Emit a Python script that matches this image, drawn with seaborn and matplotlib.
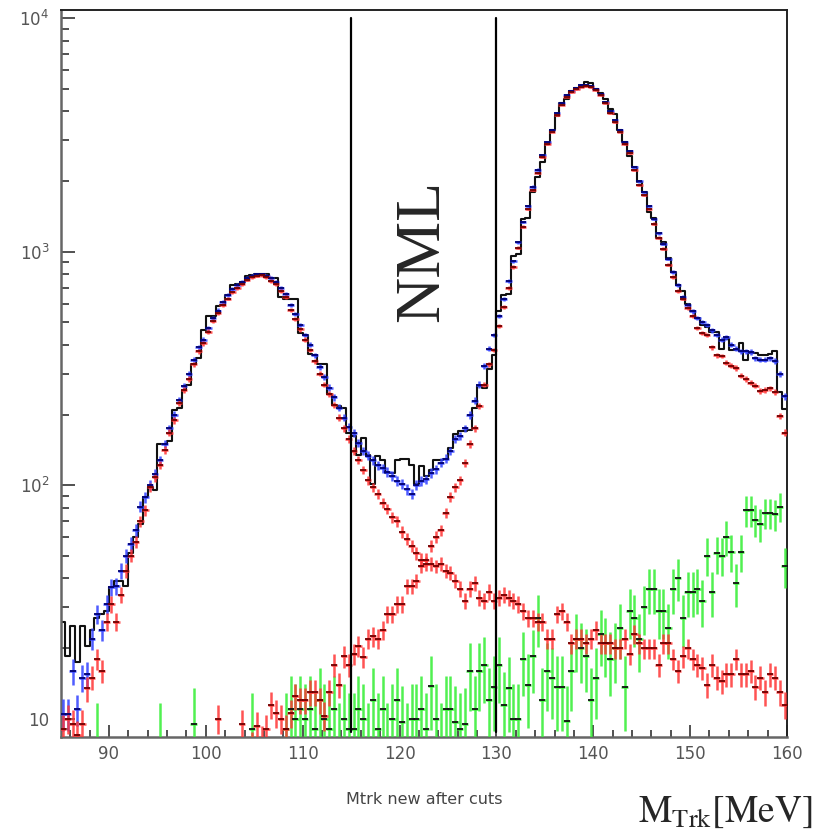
import numpy as np
import pandas as pd
import matplotlib
matplotlib.use("Agg")
import matplotlib.pyplot as plt
import seaborn as sns
from matplotlib.ticker import (FixedLocator, FixedFormatter, LogLocator,
                               MultipleLocator, NullFormatter)

# 150 bins of 0.5 MeV between 85 and 160 MeV
x_lo, x_hi, bin_w = 85.0, 160.0, 0.5
cuts = [115, 130]
N = None

# black histogram (data)
data_counts = [
    26, 18.5, 25, 17.5, 25, 20.5, 24, 27, 28, 29,
    36.5, 39, 39, 37, 51, 60, 68, 89, 98, 95,
    150, 150, 155, 210, 215, 255, 270, 330, 350, 460,
    530, 530, 585, 590, 655, 720, 725, 745, 790, 795,
    805, 805, 800, 770, 770, 640, 625, 630, 630, 450,
    440, 365, 360, 330, 330, 245, 220, 218, 215, 167,
    163, 135, 160, 135, 101, 134, 128, 113, 113, 128,
    130, 130, 122, 101, 121, 110, 116, 128, 128, 130,
    145, 165, 170, 170, 172, 215, 267, 260, 315, 360,
    555, 650, 660, 960, 980, 1380, 1400, 1800, 2100, 2420,
    2900, 3330, 3800, 4350, 4500, 4900, 5040, 5100, 5340, 5300,
    5000, 4800, 4500, 4100, 3900, 3330, 2950, 2560, 2300, 1990,
    1800, 1480, 1400, 1140, 1100, 940, 820, 720, 680, 600,
    555, 520, 485, 475, 455, 455, 385, 425, 380, 380,
    405, 345, 370, 370, 360, 360, 365, 375, 250, 212,
]

# blue points (total MC)
mc_total = [
    10.5, 10.5, 16, 11, 15, 15.5, 22, 28, 24, 31,
    36.5, 37, 43, 50, 56, 64, 81, 89, 100, 112,
    128, 150, 175, 200, 232, 265, 300, 345, 390, 420,
    470, 520, 560, 610, 650, 690, 720, 745, 775, 790,
    800, 800, 790, 770, 740, 700, 660, 590, 540, 485,
    440, 400, 360, 322, 290, 262, 238, 215, 195, 178,
    168, 152, 140, 134, 128, 122, 118, 114, 110, 104,
    101, 96, 92, 100, 104, 106, 113, 117, 125, 130,
    140, 158, 162, 175, 200, 230, 270, 325, 385, 440,
    530, 630, 750, 910, 1100, 1340, 1570, 1900, 2250, 2600,
    2950, 3330, 3940, 4350, 4700, 4900, 5050, 5190, 5200, 5150,
    5000, 4750, 4400, 4000, 3650, 3330, 2950, 2700, 2300, 2000,
    1800, 1570, 1380, 1200, 1080, 935, 820, 720, 640, 590,
    555, 520, 500, 485, 460, 440, 420, 430, 400, 385,
    375, 375, 372, 350, 345, 345, 350, 340, 300, 240,
]

# red points, component peaking near 105 MeV
mc_peak_low = [
    9, 10, 9.5, 8.5, 9.5, 13.5, 15, 18, 16, 26,
    31, 26, 34, 43, 50, 57, 70, 78, 98, 108,
    122, 142, 168, 190, 225, 255, 285, 330, 375, 405,
    455, 505, 545, 590, 630, 670, 700, 725, 760, 780,
    790, 795, 780, 750, 725, 680, 640, 565, 515, 465,
    420, 380, 340, 300, 270, 245, 220, 195, 175, 158,
    140, 128, 116, 105, 98, 92, 84, 79, 73, 70,
    63, 59, 55, 51, 48, 46, 46, 45, 46, 43,
    42, 39, 36, 32, 36, 38, 33, 32, 35, 32,
    33, 34, 33, 32, 31, 29, 27, 27, 26, 26,
    22, 22, 28, 29, 26, 21, 22, 22, 21, 22,
    24, 21, 21, 21, 20, 20, 22, 19, 23, 21,
    20, 20, 20, 17, 21, 21, 18, 16, 18.5, 20,
    18, 17, 16.5, 14, 17, 15, 14.5, 15.5, 15.5, 18,
    15.5, 15.5, 16, 13.7, 15, 13, 15.5, 15, 13, 11.5,
]

# red points, component peaking near 139 MeV
mc_peak_high = [N] * 30 + [
    N, N, 10, N, N, N, N, 9.5, N, 7.5,
    9.3, 8, 9, 11.5, 10.6, 10, 9, 10.6, 12.5, 12,
    12, 13, 13, 12, 10.3, 13, 17, 14, 18.5, 17,
    19, 20.5, 18.4, 22, 22.5, 22, 24, 28, 28, 31,
    31, 37, 37, 39, 45, 48, 55, 60, 64, 76,
    89, 98, 105, 125, 150, 175, 218, 270, 330, 380,
    480, 580, 700, 860, 1040, 1280, 1520, 1840, 2180, 2540,
    2880, 3270, 3860, 4270, 4620, 4830, 4980, 5100, 5120, 5080,
    4920, 4680, 4330, 3930, 3580, 3270, 2890, 2640, 2240, 1940,
    1750, 1520, 1320, 1150, 1030, 880, 780, 680, 630, 575,
    530, 470, 450, 440, 390, 360, 358, 335, 325, 318,
    295, 285, 275, 267, 253, 255, 260, 250, 198, 168,
]

# green points (background)
mc_background = [
    N, N, N, N, N, N, N, 8, N, N,
    N, N, N, N, N, N, N, N, N, N,
    8, N, N, N, N, N, N, 9.5, N, N,
    N, N, N, N, N, N, N, N, N, 9,
    N, N, N, N, N, N, 9, 11, 10, 11,
    10, 11, 9, 12, 10, 9, 11, 8, 10, 9,
    9, 11, 10, 8, 12, 9, 11, 8, 10, 12,
    9.7, 8, 10, 10, 11, 9, 13.8, 10, 8, 11,
    11, 9.7, 9, 9.5, 16, 11, 16, 17, 12, 13.7,
    17, 11.4, 13.6, 10, 10, 18, 14, 18.5, 27, 12,
    16, 15, 13.7, 13.7, 9.8, 16, 22, 20, 18.6, 12,
    15, 23, 21, 18, 20, 24.5, 13.7, 29, 27, 22,
    30, 36, 36, 29, 29, 24.5, 36, 40, 27, 35,
    35, 36, 32, 50, 35, 51, 50, 60, 52, 38,
    52, 78, 78, 71, 68, 76, 76, 75, 81, 45,
]

edges = np.arange(x_lo, x_hi + bin_w / 2, bin_w)
centers = edges[:-1] + bin_w / 2
hist_df = pd.DataFrame({"mtrk": centers, "counts": data_counts})

sns.set_style("ticks")
plt.rcParams["font.family"] = ["DejaVu Sans"]

fig = plt.figure(figsize=(8.19, 8.32), dpi=100)
ax = fig.add_axes([0.0739, 0.1142, 0.887, 0.8738])

sns.histplot(data=hist_df, x="mtrk", weights="counts", bins=edges.tolist(),
             element="step", fill=False, color="#111111", linewidth=1.5,
             ax=ax, zorder=2)

# points with error bars: (values, colour, centre mark colour, error scale)
series = [
    (mc_background, "#33ee33", "#111111", 1.3),
    (mc_total, "#3040ff", "#000070", 0.5),
    (mc_peak_low, "#ff3535", "#700000", 0.45),
    (mc_peak_high, "#ff3535", "#700000", 0.45),
]
for vals, col, mark_col, k in series:
    v = np.array(vals, dtype=float)
    ok = ~np.isnan(v)
    err = k * np.sqrt(v[ok])
    ax.errorbar(centers[ok], v[ok], yerr=err, xerr=0.34, fmt="none",
                ecolor=col, elinewidth=1.8, capsize=0, alpha=0.85, zorder=3)
    ax.plot(centers[ok], v[ok], ls="none", marker="_", ms=4, mew=1.3,
            color=mark_col, zorder=4)

# selection cuts
for c in cuts:
    ax.plot([c, c], [8.8, 1e4], color="black", lw=1.6, zorder=5)

ax.set_yscale("log")
ax.set_xlim(x_lo, x_hi)
ax.set_ylim(8.35, 10850)
ax.set_xlabel("")
ax.set_ylabel("")

ax.xaxis.set_major_locator(MultipleLocator(10))
ax.xaxis.set_minor_locator(MultipleLocator(2))
ax.yaxis.set_major_locator(FixedLocator([10, 100, 1000, 10000]))
ax.yaxis.set_major_formatter(FixedFormatter(["10", "$10^{2}$", "$10^{3}$", "$10^{4}$"]))
ax.yaxis.set_minor_locator(LogLocator(base=10, subs=np.arange(2, 10), numticks=20))
ax.yaxis.set_minor_formatter(NullFormatter())

ax.tick_params(which="both", direction="in", top=False, right=False,
               color="#333333", width=1.2, labelcolor="#555555", labelsize=12)
ax.tick_params(axis="y", which="major", length=10, pad=8)
ax.tick_params(axis="y", which="minor", length=6)
ax.tick_params(axis="x", which="major", length=9, pad=6)
ax.tick_params(axis="x", which="minor", length=5)

for side in ["left", "bottom"]:
    ax.spines[side].set_color("#666666")
    ax.spines[side].set_linewidth(1.8)
for side in ["top", "right"]:
    ax.spines[side].set_color("#222222")
    ax.spines[side].set_linewidth(1.4)

ax.text(0.499, 0.6685, "NML", transform=ax.transAxes, rotation=90,
        ha="center", va="center", fontsize=46, family="Liberation Serif")

fig.text(424 / 819, 1 - 800 / 832, "Mtrk new after cuts", ha="center",
         va="center", fontsize=11.5, color="#444444")
fig.text(0.992, 0.003, r"$\mathrm{M_{Trk}[MeV]}$", math_fontfamily="stix",
         fontsize=27, ha="right", va="bottom")

fig.savefig("out.png", dpi=100)
